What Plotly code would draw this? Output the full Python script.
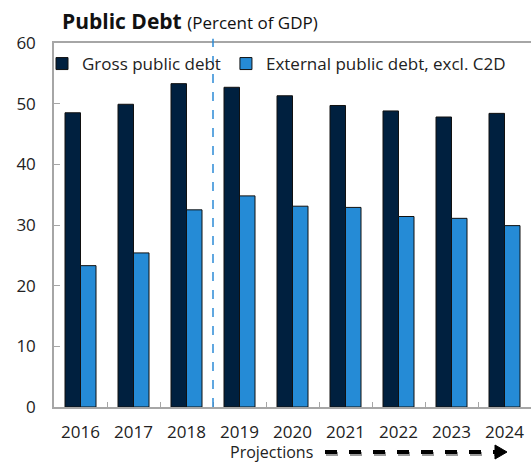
import plotly.graph_objects as go

years = ["2016", "2017", "2018", "2019", "2020", "2021", "2022", "2023", "2024"]
gross_public_debt = [48.5, 49.9, 53.3, 52.7, 51.3, 49.7, 48.8, 47.8, 48.4]
external_public_debt = [23.3, 25.4, 32.5, 34.8, 33.1, 32.9, 31.4, 31.1, 29.9]
y_ticks = [0, 10, 20, 30, 40, 50, 60]

FONT = "Open Sans"
DARK = "#00203F"
BLUE = "#258BD6"

fig = go.Figure()
fig.add_trace(go.Bar(x=years, y=gross_public_debt, name="Gross public debt",
                     marker=dict(color=DARK, line=dict(color="#111111", width=1))))
fig.add_trace(go.Bar(x=years, y=external_public_debt, name="External public debt, excl. C2D",
                     marker=dict(color=BLUE, line=dict(color="#111111", width=1))))

L, R, T, B = 54, 531, 43, 407
def px_x(p):
    return (p - L) / (R - L)
def px_y(p):
    return (B - p) / (B - T)

fig.update_layout(
    width=531, height=462,
    margin=dict(l=L, r=531 - R, t=T, b=462 - B, autoexpand=False),
    paper_bgcolor="white", plot_bgcolor="white",
    barmode="group", bargap=0.415, bargroupgap=0,
    font=dict(family=FONT, size=17, color="#222222"),
    showlegend=True,
    legend=dict(orientation="h", xref="container", yref="container",
                x=42 / 531, y=1 - 46 / 462, xanchor="left", yanchor="top",
                bgcolor="rgba(0,0,0,0)", font=dict(size=17, family=FONT, color="#222222"),
                traceorder="normal"),
    title=dict(text="<b>Public Debt</b> <span style='font-size:17px'>(Percent of GDP)</span>",
               x=62 / 531, xanchor="left", xref="container",
               y=1 - 22 / 462, yanchor="middle", yref="container",
               font=dict(size=21, family=FONT, color="#111111")),
    xaxis=dict(type="category", showline=True, linecolor="#A6A6A6", linewidth=1.5,
               mirror=True, ticks="inside", tickson="boundaries", ticklen=5,
               tickcolor="#A6A6A6", showgrid=False, ticklabelstandoff=9,
               tickfont=dict(size=17, family=FONT, color="#222222")),
    yaxis=dict(range=[0, 60], tickvals=y_ticks, showline=True, linecolor="#A6A6A6",
               linewidth=1.5, mirror=False, ticks="inside", ticklen=6, tickcolor="#A6A6A6",
               showgrid=False, zeroline=False, ticklabelstandoff=13,
               tickfont=dict(size=17, family=FONT, color="#222222")),
)

# projection divider
fig.add_shape(type="line", xref="x", yref="paper", x0=2.5, x1=2.5, y0=0, y1=1.012,
              line=dict(color="#2C8AD6", width=1.5, dash="dash"))

# Projections label and dashed arrow
fig.add_annotation(text="Projections", xref="paper", yref="paper",
                   x=px_x(271), y=px_y(452), xanchor="center", yanchor="middle",
                   showarrow=False, font=dict(size=16, family=FONT, color="#222222"))
fig.add_shape(type="line", xref="paper", yref="paper",
              x0=px_x(326), x1=px_x(498), y0=px_y(454), y1=px_y(454),
              line=dict(color="#9A9A9A", width=4, dash="dash"))
fig.add_shape(type="line", xref="paper", yref="paper",
              x0=px_x(325), x1=px_x(497), y0=px_y(452), y1=px_y(452),
              line=dict(color="#000000", width=4, dash="dash"))
fig.add_shape(type="path", xref="paper", yref="paper",
              path=f"M {px_x(495)} {px_y(445)} L {px_x(507)} {px_y(452)} L {px_x(495)} {px_y(459)} Z",
              fillcolor="#000000", line=dict(color="#000000", width=1))

fig.write_html("out.html", config={"displayModeBar": False},
               post_script="document.body.style.margin='0px';")
